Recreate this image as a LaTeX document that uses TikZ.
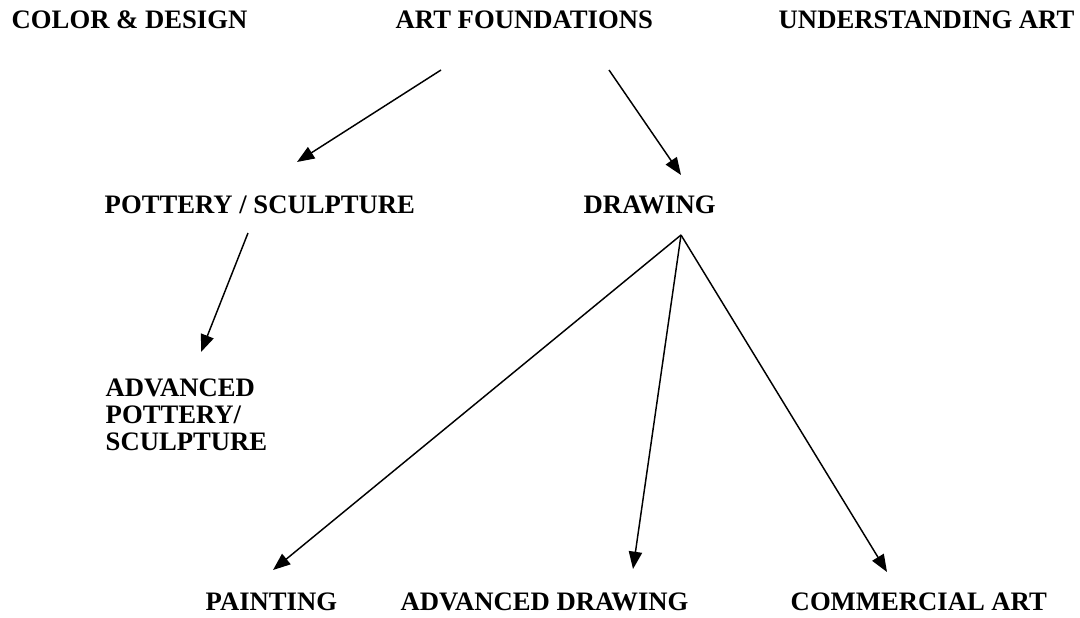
\documentclass[tikz,border=0pt]{standalone}
\usepackage{fontspec}
\setmainfont{Liberation Serif}
\usetikzlibrary{arrows.meta}
\tikzset{every picture/.style={line width=1.1pt}}
\tikzset{lbl/.style={anchor=base west,inner sep=0pt,font=\fontsize{20}{20.25}\selectfont\bfseries,align=left}}
\tikzset{arr/.style={-{Triangle[length=13pt,width=10pt]}}}

\begin{document}
\begin{tikzpicture}[x=0.75pt,y=0.75pt,yscale=-1]
\useasboundingbox (0,0) rectangle (1080,617);

% Text Node
\node [lbl] (colour) at (11,29) {COLOR \& DESIGN};
% Text Node
\node [lbl] (found) at (395,29) {ART FOUNDATIONS};
% Text Node
\node [lbl] (underst) at (778,29) {UNDERSTANDING ART};
% Text Node
\node [lbl] (pottery) at (104,213) {POTTERY / SCULPTURE};
% Text Node
\node [lbl] (drawing) at (583,213) {DRAWING};
% Text Node (base = last line)
\node [lbl] (advpot) at (105,450) {ADVANCED\\POTTERY/\\SCULPTURE};
% Text Node
\node [lbl] (painting) at (205,610) {PAINTING};
% Text Node
\node [lbl] (advdraw) at (400,610) {ADVANCED DRAWING};
% Text Node
\node [lbl] (commart) at (790,610) {COMMERCIAL ART};

%Arrow ends
\coordinate (found-l) at (441,70);
\coordinate (found-r) at (609,70);
\coordinate (pottery-t) at (297,162);
\coordinate (pottery-b) at (248,233);
\coordinate (drawing-t) at (681,175);
\coordinate (drawing-b) at (681,235);
\coordinate (advpot-t) at (201,352);
\coordinate (painting-t) at (273,570);
\coordinate (advdraw-t) at (633,569);
\coordinate (commart-t) at (887,572);

%Straight Lines
\draw [arr] (found-l) -- (pottery-t);
\draw [arr] (found-r) -- (drawing-t);
\draw [arr] (pottery-b) -- (advpot-t);
\draw [arr] (drawing-b) -- (painting-t);
\draw [arr] (drawing-b) -- (advdraw-t);
\draw [arr] (drawing-b) -- (commart-t);

\end{tikzpicture}
\end{document}
